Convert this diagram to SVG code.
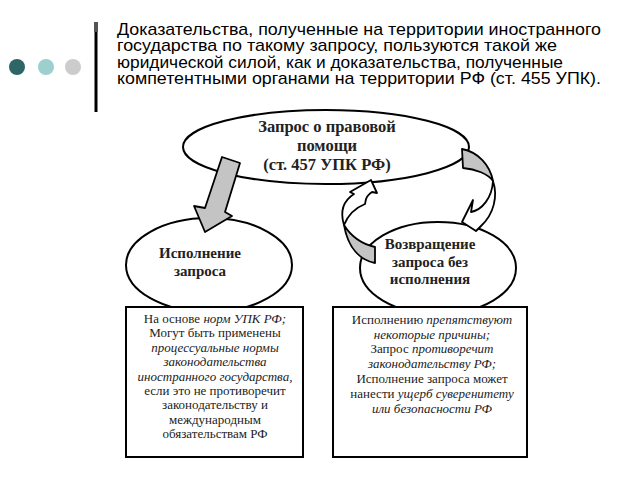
<svg xmlns="http://www.w3.org/2000/svg" width="640" height="480" viewBox="0 0 640 480">
<style>
.hdr{font-family:"Liberation Sans",Arial,sans-serif;font-size:17px;fill:#000}
.node{fill:#fff;stroke:#000;stroke-width:2}
.nt{font-family:"Liberation Serif","Times New Roman","DejaVu Serif",serif;font-size:15px;font-weight:bold;text-anchor:middle;fill:#222}
.big{font-size:16.5px}
.box{fill:#fff;stroke:#000;stroke-width:2}
.bt{font-family:"Liberation Serif","Times New Roman","DejaVu Serif",serif;font-size:13px;text-anchor:middle;fill:#222}
.it{font-style:italic}
.arr{stroke:#000;stroke-width:1.8;stroke-linejoin:round}
.g{fill:#c4c4c4}
.w{fill:#fff}
</style>
<rect width="640" height="480" fill="#fff"/>
<g id="decor">
<circle cx="17" cy="67" r="8" fill="#2e6565"/>
<circle cx="46" cy="67" r="8" fill="#9dcfcf"/>
<circle cx="73" cy="67" r="8" fill="#cccccc"/>
<rect x="94.5" y="22" width="3" height="90" fill="#000"/>
<rect x="94" y="22" width="4" height="10" fill="#555"/>
</g>
<g id="header">
<text class="hdr" x="117" y="35" textLength="484" lengthAdjust="spacingAndGlyphs">Доказательства, полученные на территории иностранного</text>
<text class="hdr" x="117" y="51" textLength="440" lengthAdjust="spacingAndGlyphs">государства по такому запросу, пользуются такой же</text>
<text class="hdr" x="117" y="68" textLength="446" lengthAdjust="spacingAndGlyphs">юридической силой, как и доказательства, полученные</text>
<text class="hdr" x="117" y="84" textLength="484" lengthAdjust="spacingAndGlyphs">компетентными органами на территории РФ (ст. 455 УПК).</text>
</g>
<g id="node-request">
<ellipse class="node" cx="326" cy="147" rx="143" ry="37"/>
<text class="nt big" x="327" y="132">Запрос о правовой</text>
<text class="nt big" x="327" y="151">помощи</text>
<text class="nt big" x="327" y="170">(ст. 457 УПК РФ)</text>
</g>
<g id="node-exec">
<ellipse class="node" cx="209" cy="265" rx="83" ry="47"/>
<text class="nt" x="200" y="258">Исполнение</text>
<text class="nt" x="200" y="276">запроса</text>
</g>
<g id="node-return">
<ellipse class="node" cx="438" cy="268" rx="78" ry="46"/>
<text class="nt" x="430" y="249">Возвращение</text>
<text class="nt" x="430" y="267">запроса без</text>
<text class="nt" x="430" y="284">исполнения</text>
</g>
<g id="box-exec">
<rect class="box" x="126" y="307" width="177" height="150"/>
<text class="bt" x="215" y="323">На основе <tspan class="it">норм УПК РФ;</tspan></text>
<text class="bt" x="215" y="337.4">Могут быть применены</text>
<text class="bt it" x="215" y="351.8">процессуальные нормы</text>
<text class="bt it" x="215" y="366.2">законодательства</text>
<text class="bt it" x="215" y="380.6">иностранного государства,</text>
<text class="bt" x="215" y="395">если это не противоречит</text>
<text class="bt" x="215" y="409.4">законодательству и</text>
<text class="bt" x="215" y="423.8">международным</text>
<text class="bt" x="215" y="438.2">обязательствам РФ</text>
</g>
<g id="box-return">
<rect class="box" x="333" y="307" width="194" height="150"/>
<text class="bt" x="432" y="324">Исполнению <tspan class="it">препятствуют</tspan></text>
<text class="bt it" x="432" y="338.5">некоторые причины;</text>
<text class="bt" x="432" y="353">Запрос <tspan class="it">противоречит</tspan></text>
<text class="bt it" x="432" y="368">законодательству РФ;</text>
<text class="bt" x="432" y="383">Исполнение запроса может</text>
<text class="bt" x="432" y="398">нанести <tspan class="it">ущерб суверенитету</tspan></text>
<text class="bt it" x="432" y="413">или безопасности РФ</text>
</g>
<g id="connectors">
<polygon class="arr g" points="222,157 240,163 225,212 232,216 205,232 194,206 205,208"/>
<path class="arr g" d="M462,149 C478,152 490,165 493,181 C488,174 476,169 463,168 Z"/>
<path class="arr w" d="M493,181 C498,196 494,214 481,226 L476,231 L462,222 L473,200 L471,212 C482,210 492,198 493,181 Z"/>
<path class="arr g" d="M344,225 C352,238 362,244 375,247 L375,263 C360,260 348,248 344,225 Z"/>
<path class="arr w" d="M344,225 C340,212 343,201 354,194 L350,192 L371,180 L377,193 L372,192 C364,197 366,202 365,204 C355,208 348,215 344,225 Z"/>
</g>
</svg>
